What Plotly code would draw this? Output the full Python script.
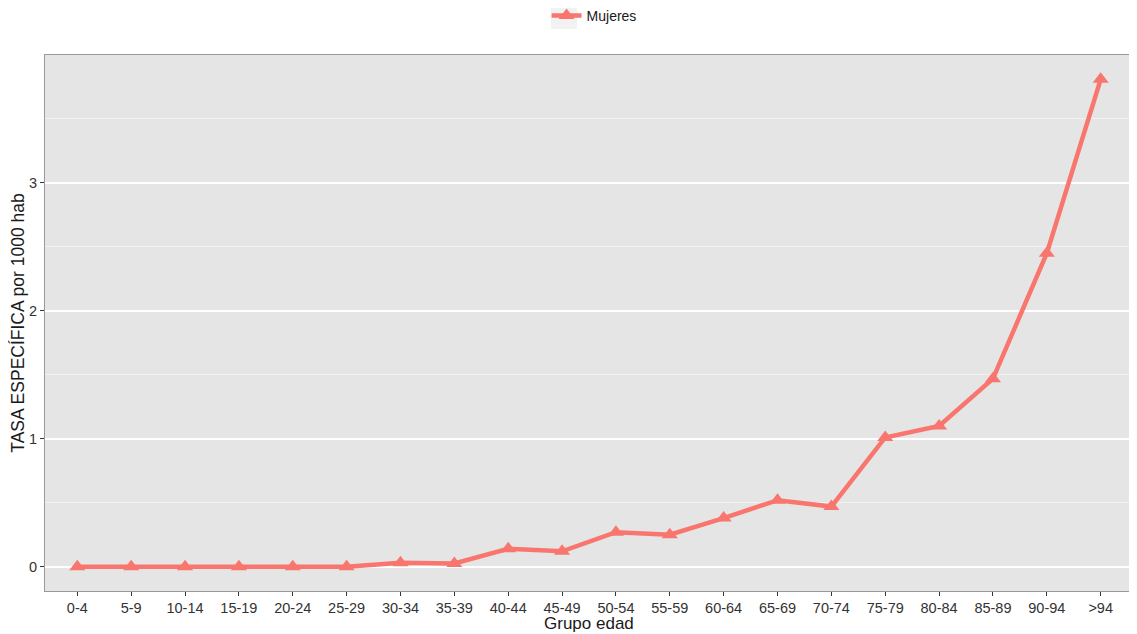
import plotly.graph_objects as go

grupos = ["0-4", "5-9", "10-14", "15-19", "20-24", "25-29", "30-34", "35-39", "40-44",
          "45-49", "50-54", "55-59", "60-64", "65-69", "70-74", "75-79", "80-84",
          "85-89", "90-94", ">94"]
tasa_mujeres = [0.0, 0.0, 0.0, 0.0, 0.0, 0.0, 0.03, 0.025, 0.14, 0.12, 0.27, 0.25,
                0.38, 0.52, 0.47, 1.01, 1.10, 1.47, 2.45, 3.81]
y_ticks = [0, 1, 2, 3]
y_minor = [0.5, 1.5, 2.5, 3.5]

color = "#F8766D"
font = "Liberation Sans, Arial, sans-serif"

fig = go.Figure()
fig.add_trace(go.Scatter(
    x=list(range(len(grupos))), y=tasa_mujeres, mode="lines+markers", name="Mujeres",
    line=dict(color=color, width=4.5),
    marker=dict(symbol="triangle-up", size=14, color=color),
))

# legend key background (ggplot style)
fig.add_shape(type="rect", xref="paper", yref="paper",
              x0=0.465, x1=0.489, y0=1.0485, y1=1.097,
              fillcolor="#F2F2F2", line=dict(width=0), layer="below")

# x axis title as annotation for precise placement
fig.add_annotation(text="Grupo edad", xref="paper", yref="paper", x=0.5, y=-0.06,
                   xanchor="center", yanchor="middle", showarrow=False,
                   font=dict(size=17, color="#1a1a1a", family=font))

# the page body adds an 8px offset, so the figure is 8px smaller and margins shifted
fig.update_layout(
    width=1129, height=626,
    margin=dict(l=37, r=4, t=47, b=43, autoexpand=False),
    paper_bgcolor="white", plot_bgcolor="#E5E5E5",
    font=dict(family=font, color="#1a1a1a"),
    showlegend=True,
    legend=dict(orientation="h", x=0.461, xanchor="left", y=1.073, yanchor="middle",
                font=dict(size=14, color="#1a1a1a"), bgcolor="rgba(0,0,0,0)",
                itemwidth=30),
    xaxis=dict(
        range=[-0.6, len(grupos) - 1 + 0.6],
        tickmode="array", tickvals=list(range(len(grupos))), ticktext=grupos,
        showgrid=False, zeroline=False, automargin=False,
        ticks="outside", ticklen=4, tickcolor="#333333", tickwidth=1,
        tickfont=dict(size=14.5, color="#333333"),
        showline=True, linecolor="#999999", linewidth=1, mirror=True,
    ),
    yaxis=dict(
        range=[-0.19, 4.0],
        tickmode="array", tickvals=y_ticks,
        showgrid=True, gridcolor="white", gridwidth=1.5,
        minor=dict(tickmode="array", tickvals=y_minor, showgrid=True,
                   gridcolor="#F2F2F2", gridwidth=0.8, ticks=""),
        zeroline=False, automargin=False,
        ticks="outside", ticklen=4, tickcolor="#333333", tickwidth=1,
        tickfont=dict(size=14.5, color="#333333"),
        title=dict(text="TASA ESPECÍFICA por 1000 hab", font=dict(size=17.5, color="#1a1a1a"), standoff=1),
        showline=True, linecolor="#999999", linewidth=1, mirror=True,
    ),
)

fig.write_html("out.html")
